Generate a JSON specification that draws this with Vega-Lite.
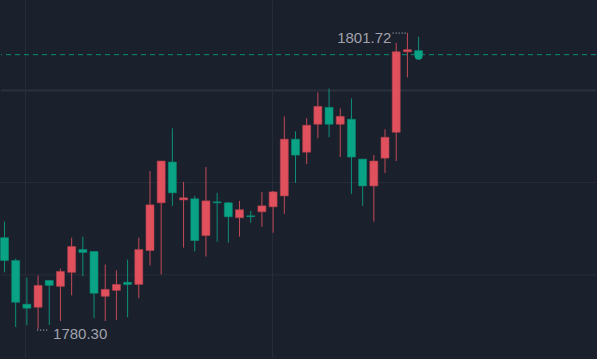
{
  "$schema": "https://vega.github.io/schema/vega-lite/v6.json",
  "width": 597,
  "height": 359,
  "autosize": {"type": "fit", "contains": "padding"},
  "padding": 0,
  "background": "#1b202d",
  "config": {"view": {"stroke": null}, "scale": {"continuousPadding": 0}},
  "datasets": {
    "candles": [
      {"i": 0, "o": 1786.91, "h": 1788.07, "l": 1784.40, "c": 1785.26},
      {"i": 1, "o": 1785.26, "h": 1785.40, "l": 1780.45, "c": 1782.24},
      {"i": 2, "o": 1782.10, "h": 1784.04, "l": 1780.59, "c": 1781.81},
      {"i": 3, "o": 1781.88, "h": 1784.18, "l": 1780.30, "c": 1783.46},
      {"i": 4, "o": 1783.82, "h": 1783.82, "l": 1780.59, "c": 1783.46},
      {"i": 5, "o": 1783.39, "h": 1784.68, "l": 1780.88, "c": 1784.47},
      {"i": 6, "o": 1784.40, "h": 1786.91, "l": 1782.74, "c": 1786.27},
      {"i": 7, "o": 1786.05, "h": 1786.98, "l": 1784.11, "c": 1785.84},
      {"i": 8, "o": 1785.91, "h": 1785.91, "l": 1781.09, "c": 1782.89},
      {"i": 9, "o": 1782.67, "h": 1784.97, "l": 1780.88, "c": 1783.17},
      {"i": 10, "o": 1783.10, "h": 1784.54, "l": 1780.95, "c": 1783.53},
      {"i": 11, "o": 1783.68, "h": 1785.33, "l": 1781.16, "c": 1783.53},
      {"i": 12, "o": 1783.53, "h": 1786.91, "l": 1782.53, "c": 1786.05},
      {"i": 13, "o": 1785.98, "h": 1791.73, "l": 1784.90, "c": 1789.28},
      {"i": 14, "o": 1789.43, "h": 1792.45, "l": 1784.25, "c": 1792.45},
      {"i": 15, "o": 1792.38, "h": 1794.82, "l": 1789.21, "c": 1790.15},
      {"i": 16, "o": 1789.64, "h": 1790.94, "l": 1786.19, "c": 1789.79},
      {"i": 17, "o": 1789.72, "h": 1789.93, "l": 1785.91, "c": 1786.70},
      {"i": 18, "o": 1787.06, "h": 1792.02, "l": 1785.55, "c": 1789.57},
      {"i": 19, "o": 1789.50, "h": 1790.15, "l": 1786.62, "c": 1789.43},
      {"i": 20, "o": 1789.43, "h": 1789.50, "l": 1786.55, "c": 1788.42},
      {"i": 21, "o": 1788.35, "h": 1789.57, "l": 1786.98, "c": 1788.93},
      {"i": 22, "o": 1788.49, "h": 1788.85, "l": 1787.99, "c": 1788.42},
      {"i": 23, "o": 1788.78, "h": 1790.22, "l": 1787.70, "c": 1789.21},
      {"i": 24, "o": 1789.14, "h": 1790.29, "l": 1787.27, "c": 1790.22},
      {"i": 25, "o": 1789.93, "h": 1795.68, "l": 1788.64, "c": 1794.03},
      {"i": 26, "o": 1794.03, "h": 1794.60, "l": 1790.87, "c": 1792.88},
      {"i": 27, "o": 1793.09, "h": 1795.54, "l": 1792.23, "c": 1795.04},
      {"i": 28, "o": 1795.11, "h": 1797.41, "l": 1794.10, "c": 1796.40},
      {"i": 29, "o": 1796.33, "h": 1797.69, "l": 1794.17, "c": 1795.11},
      {"i": 30, "o": 1795.11, "h": 1796.26, "l": 1792.74, "c": 1795.68},
      {"i": 31, "o": 1795.47, "h": 1796.98, "l": 1790.08, "c": 1792.74},
      {"i": 32, "o": 1792.59, "h": 1792.59, "l": 1789.21, "c": 1790.65},
      {"i": 33, "o": 1790.65, "h": 1792.88, "l": 1788.07, "c": 1792.45},
      {"i": 34, "o": 1792.66, "h": 1794.75, "l": 1791.59, "c": 1794.17},
      {"i": 35, "o": 1794.53, "h": 1801.00, "l": 1792.45, "c": 1800.35},
      {"i": 36, "o": 1800.35, "h": 1801.72, "l": 1798.49, "c": 1800.50},
      {"i": 37, "o": 1800.43, "h": 1801.43, "l": 1800.14, "c": 1800.14}
    ],
    "gridThick": [{"p": 1797.55}],
    "gridThin": [{"p": 1790.90}, {"p": 1784.22}],
    "gridV": [{"i": 1.87}, {"i": 23.95}],
    "lastPrice": [{"p": 1800.14}],
    "lastMark": [{"i": 37, "p": 1800.06}],
    "hiLabel": [{"i": 36, "p": 1801.72, "t": "1801.72"}],
    "loLabel": [{"i": 3, "p": 1780.30, "t": "1780.30"}],
    "leaders": [
      {"i": 34.68, "i2": 35.85, "p": 1801.70},
      {"i": 2.92, "i2": 3.96, "p": 1780.23}
    ]
  },
  "layer": [
    {
      "data": {"name": "gridThick"},
      "mark": {"type": "rule", "color": "#2b303d", "strokeWidth": 2},
      "encoding": {
        "y": {"field": "p", "type": "quantitative", "axis": null, "scale": {"domain": [1778.21, 1804.02], "nice": false, "zero": false, "padding": 0}}
      }
    },
    {
      "data": {"name": "gridThin"},
      "mark": {"type": "rule", "color": "#282d3a", "strokeWidth": 1},
      "encoding": {
        "y": {"field": "p", "type": "quantitative", "axis": null}
      }
    },
    {
      "data": {"name": "gridV"},
      "mark": {"type": "rule", "color": "#282d3a", "strokeWidth": 1},
      "encoding": {
        "x": {"field": "i", "type": "quantitative", "axis": null, "scale": {"domain": [-0.312, 52.85], "nice": false, "zero": false, "padding": 0}}
      }
    },
    {
      "data": {"name": "lastPrice"},
      "mark": {"type": "rule", "color": "#0b8a73", "strokeWidth": 1, "strokeDash": [5, 4]},
      "encoding": {
        "y": {"field": "p", "type": "quantitative", "axis": null}
      }
    },
    {
      "data": {"name": "candles"},
      "mark": {"type": "rule", "strokeWidth": 1, "opacity": 0.85},
      "encoding": {
        "x": {"field": "i", "type": "quantitative", "axis": null},
        "y": {"field": "l", "type": "quantitative", "axis": null},
        "y2": {"field": "h"},
        "color": {"condition": {"test": "datum.c > datum.o", "value": "#e0505d"}, "value": "#0aa386"}
      }
    },
    {
      "data": {"name": "candles"},
      "mark": {"type": "bar", "size": 8, "orient": "vertical", "strokeWidth": 1, "strokeOpacity": 0.6},
      "encoding": {
        "x": {"field": "i", "type": "quantitative", "axis": null},
        "y": {"field": "o", "type": "quantitative", "axis": null},
        "y2": {"field": "c"},
        "color": {"condition": {"test": "datum.c > datum.o", "value": "#e0505d"}, "value": "#0aa386"},
        "stroke": {"condition": {"test": "datum.c > datum.o", "value": "#b3424d"}, "value": "#088a72"}
      }
    },
    {
      "data": {"name": "lastMark"},
      "mark": {"type": "point", "shape": "circle", "filled": true, "size": 64, "color": "#0aa386", "opacity": 1},
      "encoding": {
        "x": {"field": "i", "type": "quantitative", "axis": null},
        "y": {"field": "p", "type": "quantitative", "axis": null}
      }
    },
    {
      "data": {"name": "leaders"},
      "mark": {"type": "rule", "color": "#c4c7cf", "strokeWidth": 1, "strokeDash": [1, 2]},
      "encoding": {
        "x": {"field": "i", "type": "quantitative", "axis": null},
        "x2": {"field": "i2"},
        "y": {"field": "p", "type": "quantitative", "axis": null}
      }
    },
    {
      "data": {"name": "hiLabel"},
      "mark": {"type": "text", "align": "right", "baseline": "middle", "dx": -16, "dy": 5, "font": "Liberation Sans", "fontSize": 15, "color": "#a0a3ac"},
      "encoding": {
        "x": {"field": "i", "type": "quantitative", "axis": null},
        "y": {"field": "p", "type": "quantitative", "axis": null},
        "text": {"field": "t"}
      }
    },
    {
      "data": {"name": "loLabel"},
      "mark": {"type": "text", "align": "left", "baseline": "middle", "dx": 15, "dy": 5, "font": "Liberation Sans", "fontSize": 15, "color": "#a0a3ac"},
      "encoding": {
        "x": {"field": "i", "type": "quantitative", "axis": null},
        "y": {"field": "p", "type": "quantitative", "axis": null},
        "text": {"field": "t"}
      }
    }
  ]
}
